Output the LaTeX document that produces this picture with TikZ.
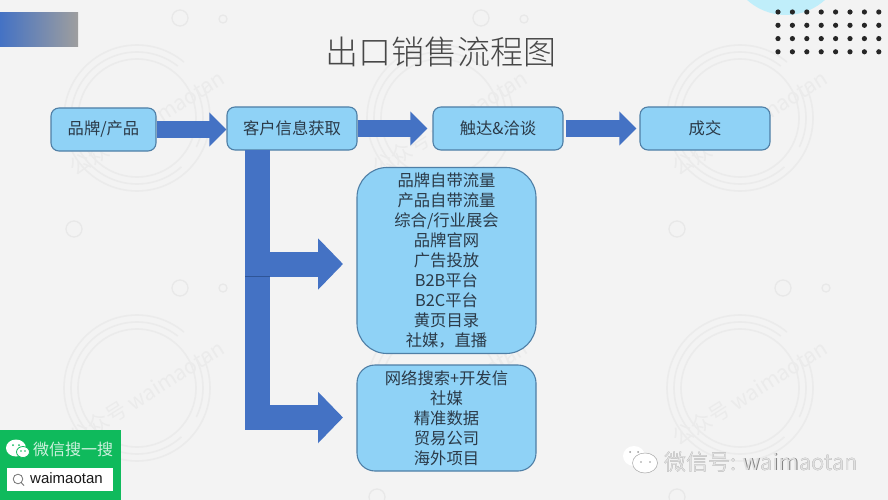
\documentclass[tikz,border=0pt]{standalone}
\usepackage{fontspec}
\setmainfont{Noto Sans CJK SC}
\newfontfamily\latinfont{Liberation Sans}
\newfontfamily\titlefont{Noto Sans CJK SC Light}
\usetikzlibrary{arrows.meta,shadings}
\definecolor{pagebg}{HTML}{F3F3F3}
\definecolor{boxfill}{HTML}{8FD2F6}
\definecolor{boxline}{HTML}{4F7FA6}
\definecolor{boxtext}{HTML}{2B3A48}
\definecolor{arrowblue}{HTML}{4472C4}
\definecolor{seamblue}{HTML}{2F5597}
\definecolor{wm}{HTML}{EBEBEB}
\definecolor{wmsmall}{HTML}{E8E8E8}
\definecolor{badge}{HTML}{0FBA5C}
\definecolor{cyancap}{HTML}{C0EEFA}
\tikzset{
  x=1pt,y=-1pt,
  flowbox/.style={draw=boxline,fill=boxfill,line width=1.1pt,rounded corners=8pt,
    text=boxtext,font=\fontsize{16.3}{20}\selectfont,align=center,inner sep=0pt},
  bigbox/.style={flowbox,rounded corners=#1},
  blockarrow/.style={draw=arrowblue,line width=16.5pt,
    -{Triangle[length=17pt,width=33pt,fill=arrowblue]}},
  branch/.style={draw=arrowblue,line width=25pt,
    -{Triangle[length=25pt,width=50pt,fill=arrowblue]}},
  wmring/.style={draw=wm,line width=1.6pt},
  wmdot/.style={draw=wmsmall,line width=1.3pt},
  dotgrid/.style={fill=black!85,draw=none},
}
\newcommand{\watermark}[2]{%
  \draw[wmring,dash pattern=on 395pt off 30pt on 33pt off 0pt] (#1,#2) circle[radius=73];
  \draw[wmring,dash pattern=on 30pt off 25pt on 300pt off 30pt] (#1,#2) circle[radius=66];
  \draw[wmring] (#1,#2) circle[radius=59];
  \node[text=wm,rotate=32,font=\fontsize{21}{21}\selectfont,inner sep=0pt] (wm#1#2) at (#1+10,#2+5) {公众号 waimaotan};
}
\begin{document}
\begin{tikzpicture}
\path[use as bounding box,fill=pagebg] (0,0) rectangle (888,500);
\begin{scope}
\clip (0,0) rectangle (888,500);
\fill[cyancap] (786,-43) circle[radius=58];
\end{scope}

% watermarks
\watermark{137}{118}
\watermark{440}{118}
\watermark{740}{118}
\watermark{137}{388}
\watermark{440}{388}
\watermark{740}{388}
\foreach \cx/\cy/\r in {180/18/8,223/19/4,481/18/8,524/19/4,74/229/8,375/228/8,677/229/8,
  180/288/8,223/288/4,482/288/8,524/288/4,783/288/8,826/288/4,377/497/8,677/497/8}
  \draw[wmdot] (\cx,\cy) circle[radius=\r];

% top-left band
\shade[left color=arrowblue,right color=black!38] (0,13) rectangle (78,47);

% dot grid
\foreach \dy in {12,25.3,38.6,51.8}
  \foreach \dx in {778,792.4,806.8,821.2,835.6,850,864.4,878.8}
    \fill[dotgrid] (\dx,\dy) circle[radius=2.6];

% title
\node[text=black!72,font=\titlefont\fontsize{33}{33}\selectfont,inner sep=0pt] (title) at (440.5,52) {出口销售流程图};

% boxes
\node[flowbox,minimum width=105pt,minimum height=43pt] (brand) at (103.5,129.5) {品牌/产品};
\node[flowbox,minimum width=130pt,minimum height=43pt] (info) at (292,128.5) {客户信息获取};
\node[flowbox,minimum width=130pt,minimum height=43pt] (reach) at (498,128.5) {触达\&洽谈};
\node[flowbox,minimum width=130pt,minimum height=43pt] (deal) at (705,128.5) {成交};
\node[bigbox=30pt,minimum width=179pt,minimum height=186pt] (inbound) at (446.5,260.5)
  {品牌自带流量\\产品自带流量\\综合/行业展会\\品牌官网\\广告投放\\B2B平台\\B2C平台\\黄页目录\\社媒，直播};
\node[bigbox=18pt,minimum width=179pt,minimum height=106pt] (outbound) at (446.5,418)
  {网络搜索+开发信\\社媒\\精准数据\\贸易公司\\海外项目};

% flow arrows
\draw[blockarrow] (brand.east) -- (brand.east -| info.west);
\draw[blockarrow,shorten >=5pt] (info.east) -- (reach.west);
\draw[blockarrow,shorten >=3pt,shorten <=2pt] (reach.east) -- (deal.west);

% branch arrows
\coordinate (trunk) at (257.5,150);
\coordinate (tipa) at (343,264);
\coordinate (tipb) at (343,417.5);
\draw[branch] (trunk) |- (tipb);
\draw[branch] (trunk) |- (tipa);
\draw[seamblue,line width=.7pt] (245,276.5) -- (270,276.5);

% green badge
\fill[badge] (0,430) rectangle (121,500);
\fill[white] (16,448) ellipse[x radius=10,y radius=8.5];
\draw[badge,line width=.8pt,fill=white] (23,452) ellipse[x radius=6.5,y radius=5.5];
\fill[badge] (13,445) circle[radius=1] (19,445) circle[radius=1] (21,451) circle[radius=.8] (25,451) circle[radius=.8];
\node[text=white!80!badge,font=\fontsize{16}{16}\selectfont,inner sep=0pt,anchor=west] (wxsearch) at (33,449) {微信搜一搜};
\node[fill=white,minimum width=106pt,minimum height=23pt,inner sep=0pt] (searchbox) at (60,479) {};
\draw[black!55,line width=.8pt] (18,479) circle[radius=4.8] (21.5,483) -- (24,485.5);
\node[text=black!90,font=\latinfont\fontsize{15}{15}\selectfont,inner sep=0pt,anchor=west] (searchtext) at (30,478) {waimaotan};

% bottom right mark
\fill[white] (634,456) ellipse[x radius=11,y radius=10];
\draw[black!35,line width=.5pt,fill=white] (645,463) ellipse[x radius=12.5,y radius=10];
\fill[black!40] (630,452) circle[radius=1] (638,452) circle[radius=1] (641,462) circle[radius=.9] (650,462) circle[radius=.9];
\node[text=black!50,font=\fontsize{22}{22}\selectfont,inner sep=0pt] (markshadow) at (761.5,462.5) {微信号: waimaotan};
\node[text=black!12,font=\fontsize{22}{22}\selectfont,inner sep=0pt] (mark) at (761,462) {微信号: waimaotan};
\end{tikzpicture}
\end{document}
